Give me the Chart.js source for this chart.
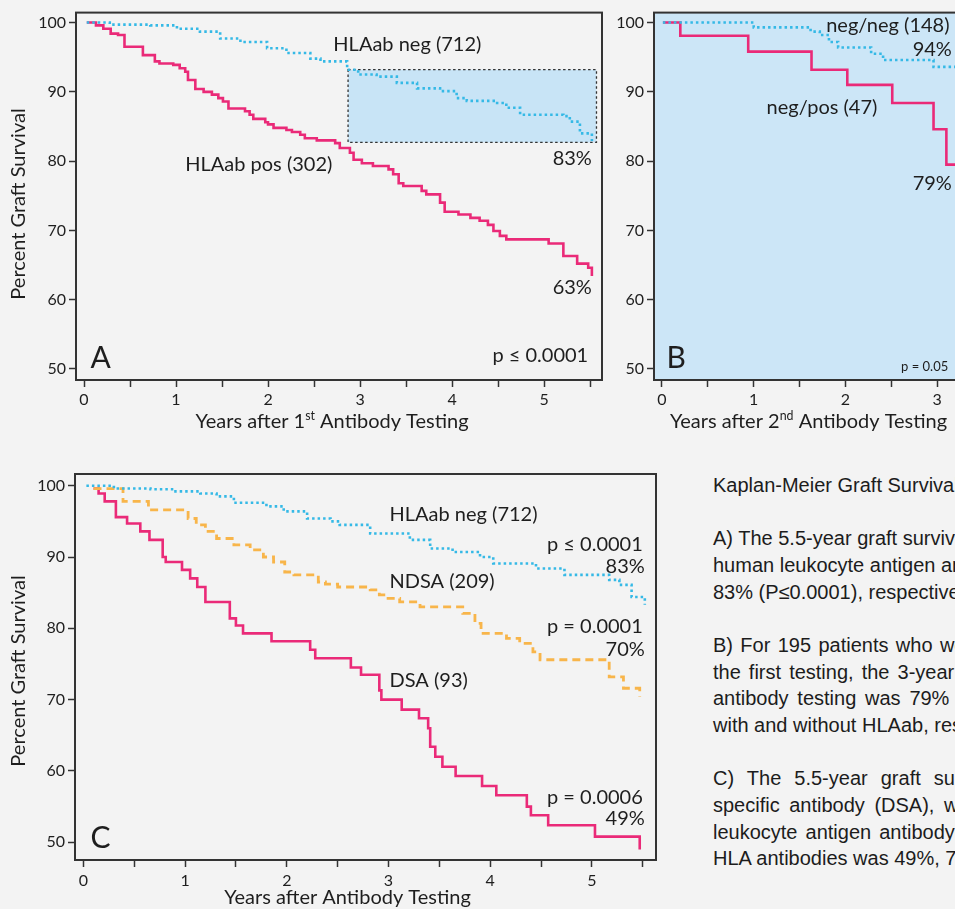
<!DOCTYPE html>
<html>
<head>
<meta charset="utf-8">
<script src="https://cdn.jsdelivr.net/npm/chart.js@4.4.1/dist/chart.umd.min.js"></script>
<style>
  html, body { margin: 0; padding: 0; background: #f3f3f3; width: 955px; height: 909px; overflow: hidden; position: relative; }
  .panel { position: absolute; overflow: visible; }
  .panel canvas { display: block; }
  #caption { position: absolute; left: 713px; top: 472px; font-family: "Liberation Sans", Arial, sans-serif;
             font-size: 20px; color: #1c1c1c; white-space: nowrap; }
  #caption div { height: 26.67px; line-height: 26.67px; }
</style>
</head>
<body>
<div class="panel" style="left:0;top:0;width:610px;height:440px"><canvas id="chartA" width="610" height="440" style="width:610px;height:440px"></canvas></div>
<div class="panel" style="left:600px;top:0;width:450px;height:440px"><canvas id="chartB" width="450" height="440" style="width:450px;height:440px"></canvas></div>
<div class="panel" style="left:0;top:460px;width:670px;height:449px"><canvas id="chartC" width="670" height="449" style="width:670px;height:449px"></canvas></div>

<div id="caption">
  <div>Kaplan-Meier Graft Survival</div>
  <div>&nbsp;</div>
  <div>A) The 5.5-year graft survival of patients with and without</div>
  <div>human leukocyte antigen antibodies (HLAab) was 63% and</div>
  <div>83% (P≤0.0001), respectively.</div>
  <div>&nbsp;</div>
  <div style="word-spacing:1.8px">B) For 195 patients who were HLAab negative at</div>
  <div style="word-spacing:2.5px">the first testing, the 3-year graft survival after the second</div>
  <div style="word-spacing:3.2px">antibody testing was 79% and 94% for patients</div>
  <div>with and without HLAab, respectively (P=0.05).</div>
  <div>&nbsp;</div>
  <div style="word-spacing:7.5px">C) The 5.5-year graft survival of patients with donor-</div>
  <div style="word-spacing:4px">specific antibody (DSA), with nondonor-specific human</div>
  <div style="word-spacing:2.5px">leukocyte antigen antibody (NDSA), and without</div>
  <div>HLA antibodies was 49%, 70%, and 83%, respectively.</div>
</div>

<script>
// tick values shared by all panels
var yTicks = [50, 60, 70, 80, 90, 100];
var xTicks = [0, 0.5, 1, 1.5, 2, 2.5, 3, 3.5, 4, 4.5, 5, 5.5];

// A: after 1st antibody testing
var aPosYears = [0.03, 0.13, 0.21, 0.29, 0.37, 0.44, 0.64, 0.77, 0.82, 0.97, 1.04, 1.10, 1.13, 1.21, 1.30, 1.39, 1.46, 1.51, 1.57, 1.75, 1.80, 1.84, 1.97, 2.00, 2.06, 2.20, 2.26, 2.35, 2.40, 2.53, 2.73, 2.78, 2.89, 2.93, 3.02, 3.14, 3.31, 3.36, 3.42, 3.47, 3.67, 3.72, 3.87, 3.92, 4.07, 4.20, 4.30, 4.39, 4.45, 4.52, 4.59, 5.05, 5.21, 5.36, 5.48, 5.52];
var aPosSurv  = [100, 99.6, 99.1, 98.4, 98.2, 96.5, 95.3, 94.4, 94.1, 93.9, 93.4, 92.9, 91.7, 90.4, 90.0, 89.6, 89.1, 88.6, 87.6, 87.2, 86.7, 86.1, 85.6, 85.3, 84.8, 84.5, 84.2, 83.8, 83.3, 83.0, 82.6, 81.9, 81.2, 80.2, 79.7, 79.3, 78.8, 78.1, 76.8, 76.4, 75.7, 75.2, 74.0, 72.7, 72.3, 71.8, 71.4, 70.8, 69.9, 69.2, 68.7, 68.1, 66.3, 65.2, 64.6, 63.4];
var aNegYears = [0.03, 0.28, 0.72, 1.01, 1.26, 1.48, 1.70, 1.99, 2.20, 2.46, 2.57, 2.86, 2.98, 3.18, 3.40, 3.62, 3.87, 4.05, 4.16, 4.49, 4.59, 4.74, 5.21, 5.28, 5.39, 5.52];
var aNegSurv  = [100, 99.7, 99.6, 99.1, 98.7, 97.7, 97.2, 96.3, 95.6, 94.8, 94.4, 93.2, 92.5, 92.2, 91.3, 90.5, 90.1, 89.1, 88.7, 88.4, 87.7, 86.7, 86.5, 85.7, 84.0, 82.9];

// B: after 2nd antibody testing
var bPosYears = [0.01, 0.20, 0.94, 1.63, 2.02, 2.51, 2.96, 3.10, 3.20];
var bPosSurv  = [100, 98.1, 95.8, 93.2, 91.0, 88.4, 84.6, 79.5, 79.5];
var bNegYears = [0.01, 1.00, 1.62, 1.72, 1.82, 1.92, 2.28, 2.41, 2.96, 3.20];
var bNegSurv  = [100, 99.3, 98.7, 98.2, 97.2, 96.4, 95.5, 94.6, 93.6, 93.6];

// C: DSA / NDSA / HLAab neg
var cDsaYears  = [0.10, 0.15, 0.21, 0.32, 0.43, 0.56, 0.65, 0.78, 0.81, 0.97, 1.05, 1.12, 1.20, 1.44, 1.50, 1.57, 1.85, 2.23, 2.28, 2.63, 2.73, 2.91, 2.93, 3.13, 3.30, 3.39, 3.41, 3.46, 3.53, 3.66, 3.92, 4.06, 4.36, 4.40, 4.57, 5.03, 5.47];
var cDsaSurv   = [99.6, 98.9, 97.8, 95.6, 94.7, 93.6, 92.4, 90.0, 89.3, 88.2, 87.0, 85.8, 83.7, 81.4, 80.4, 79.3, 78.2, 77.0, 75.8, 74.5, 73.5, 71.3, 70.0, 68.6, 67.4, 66.0, 63.4, 62.0, 60.6, 59.3, 57.9, 56.6, 55.0, 53.8, 52.4, 50.8, 49.0];
var cNdsaYears = [0.10, 0.39, 0.64, 1.03, 1.11, 1.20, 1.31, 1.48, 1.64, 1.77, 1.87, 1.98, 2.07, 2.31, 2.38, 2.50, 2.82, 2.91, 2.98, 3.11, 3.31, 3.73, 3.85, 3.91, 4.16, 4.29, 4.42, 4.49, 5.17, 5.31, 5.47];
var cNdsaSurv  = [99.6, 97.8, 96.6, 95.4, 94.5, 93.6, 92.6, 91.7, 91.0, 90.0, 89.3, 87.9, 87.5, 86.5, 86.2, 85.8, 85.4, 84.7, 84.2, 83.7, 83.0, 82.1, 80.7, 79.3, 78.6, 77.9, 76.7, 75.6, 73.2, 71.6, 70.4];
var cNegYears  = [0.03, 0.30, 0.66, 0.89, 1.15, 1.31, 1.48, 1.80, 1.97, 2.20, 2.43, 2.52, 2.82, 3.21, 3.41, 3.63, 3.90, 4.03, 4.45, 4.73, 5.17, 5.27, 5.39, 5.52];
var cNegSurv   = [100, 99.6, 99.5, 99.2, 98.9, 98.5, 97.6, 97.1, 96.4, 95.4, 95.0, 94.5, 93.3, 92.4, 91.2, 90.7, 90.0, 89.1, 88.4, 87.5, 86.8, 86.1, 84.4, 83.3];

var PINK = '#ea2a78', CYAN = '#35b9e6', ORANGE = '#f8b54a', INK = '#1e1e1e', FRAME = '#333333';
var FONT = 'Lato, "Open Sans", sans-serif';

Chart.defaults.font.family = FONT;

function pts(xs, ys) {
  return xs.map(function(x, i) { return { x: x, y: ys[i] }; });
}

function solid(xs, ys) {
  return { data: pts(xs, ys), borderColor: PINK, borderWidth: 2.6, stepped: true, pointRadius: 0 };
}
function dotted(xs, ys) {
  return { data: pts(xs, ys), borderColor: CYAN, borderWidth: 2.6, borderDash: [2.5, 3], stepped: true, pointRadius: 0 };
}
function dashed(xs, ys) {
  return { data: pts(xs, ys), borderColor: ORANGE, borderWidth: 2.8, borderDash: [8, 5], stepped: true, pointRadius: 0 };
}

// text with optional superscript parts: [[text, isSup], ...]
function drawRich(ctx, parts, x, y, align, size) {
  var widths = parts.map(function(p) {
    ctx.font = (p[1] ? size * 0.62 : size) + 'px ' + FONT;
    return ctx.measureText(p[0]).width;
  });
  var total = widths.reduce(function(a, b) { return a + b; }, 0);
  var cx = align === 'center' ? x - total / 2 : (align === 'right' ? x - total : x);
  ctx.textAlign = 'left';
  ctx.textBaseline = 'middle';
  parts.forEach(function(p, i) {
    ctx.font = (p[1] ? size * 0.62 : size) + 'px ' + FONT;
    ctx.fillText(p[0], cx, p[1] ? y - size * 0.32 : y);
    cx += widths[i];
  });
}

var kmDecor = {
  id: 'kmDecor',
  beforeDatasetsDraw: function(chart, args, o) {
    var ctx = chart.ctx, a = chart.chartArea, sx = chart.scales.x, sy = chart.scales.y;
    ctx.save();
    if (o.plotFill) {
      ctx.fillStyle = o.plotFill;
      ctx.fillRect(a.left, a.top, a.width, a.height);
    }
    if (o.box) {
      var x0 = sx.getPixelForValue(o.box.x0), x1 = sx.getPixelForValue(o.box.x1);
      var y0 = sy.getPixelForValue(o.box.y0), y1 = sy.getPixelForValue(o.box.y1);
      ctx.fillStyle = '#c8e4f6';
      ctx.fillRect(x0, y1, x1 - x0, y0 - y1);
      ctx.strokeStyle = '#333';
      ctx.lineWidth = 1.3;
      ctx.setLineDash([2.5, 2.5]);
      ctx.strokeRect(x0, y1, x1 - x0, y0 - y1);
    }
    ctx.restore();
  },
  afterDraw: function(chart, args, o) {
    var ctx = chart.ctx, a = chart.chartArea, sx = chart.scales.x, sy = chart.scales.y;
    ctx.save();
    ctx.strokeStyle = FRAME;
    ctx.lineWidth = 2;
    ctx.strokeRect(a.left, a.top, a.width, a.height);
    ctx.fillStyle = INK;
    (o.labels || []).forEach(function(l) {
      drawRich(ctx, [[l.text, false]], sx.getPixelForValue(l.x), sy.getPixelForValue(l.y), l.align, l.size || 20);
    });
    drawRich(ctx, o.xTitle, (a.left + a.right) / 2 + o.xTitleShift, o.xTitleY, 'center', 20);
    ctx.translate(19, o.yTitleY);
    ctx.rotate(-Math.PI / 2);
    drawRich(ctx, [['Percent Graft Survival', false]], 0, 0, 'center', 20);
    ctx.restore();
  }
};

function kmChart(id, p) {
  return new Chart(document.getElementById(id), {
    type: 'line',
    data: { datasets: p.datasets },
    options: {
      responsive: false,
      animation: false,
      layout: { padding: { top: p.padTop, right: p.padRight, left: 0, bottom: 0 } },
      plugins: { legend: { display: false }, tooltip: { enabled: false }, kmDecor: p.decor },
      scales: {
        x: {
          type: 'linear', min: p.xMin, max: p.xMax,
          afterBuildTicks: function(s) {
            s.ticks = xTicks.filter(function(v) { return v <= p.xMax; }).map(function(v) { return { value: v }; });
          },
          afterFit: function(s) { s.height = p.xAxisH; },
          ticks: {
            autoSkip: false, maxRotation: 0, padding: p.xPad, color: INK, font: { size: 16 },
            callback: function(v) { return Number.isInteger(v) ? String(v) : ''; }
          },
          grid: { drawOnChartArea: false, tickLength: 7, tickColor: FRAME, tickWidth: 1.5 },
          border: { display: false }
        },
        y: {
          min: p.yMin, max: p.yMax,
          afterBuildTicks: function(s) { s.ticks = yTicks.map(function(v) { return { value: v }; }); },
          afterFit: function(s) { s.width = p.yAxisW; },
          ticks: { padding: 3, color: INK, font: { size: 16 }, callback: function(v) { return String(v); } },
          grid: { drawOnChartArea: false, tickLength: 7, tickColor: FRAME, tickWidth: 1.5 },
          border: { display: false }
        }
      }
    },
    plugins: [kmDecor]
  });
}

kmChart('chartA', {
  datasets: [dotted(aNegYears, aNegSurv), solid(aPosYears, aPosSurv)],
  xMin: -0.087, xMax: 5.63, yMin: 48.4, yMax: 101.44,
  padTop: 11, padRight: 8, yAxisW: 76, xAxisH: 60, xPad: 3,
  decor: {
    box: { x0: 2.87, x1: 5.57, y0: 82.7, y1: 93.2 },
    xTitle: [['Years after 1', false], ['st', true], [' Antibody Testing', false]],
    xTitleY: 422, xTitleShift: -7, yTitleY: 204,
    labels: [
      { text: 'HLAab neg (712)', x: 2.71, y: 96.8, align: 'left' },
      { text: 'HLAab pos (302)', x: 1.10, y: 79.5, align: 'left' },
      { text: '83%', x: 5.52, y: 80.4, align: 'right' },
      { text: '63%', x: 5.52, y: 61.7, align: 'right' },
      { text: 'p ≤ 0.0001', x: 5.48, y: 52.0, align: 'right' },
      { text: 'A', x: 0.07, y: 51.6, align: 'left', size: 30 }
    ]
  }
});

kmChart('chartB', {
  datasets: [dotted(bNegYears, bNegSurv), solid(bPosYears, bPosSurv)],
  xMin: -0.087, xMax: 3.63, yMin: 48.4, yMax: 101.44,
  padTop: 11, padRight: 55, yAxisW: 54, xAxisH: 60, xPad: 3,
  decor: {
    plotFill: '#cce6f7',
    xTitle: [['Years after 2', false], ['nd', true], [' Antibody Testing', false]],
    xTitleY: 422, xTitleShift: -16, yTitleY: -1000,
    labels: [
      { text: 'neg/neg (148)', x: 1.79, y: 99.6, align: 'left' },
      { text: '94%', x: 3.16, y: 96.1, align: 'right' },
      { text: 'neg/pos (47)', x: 1.14, y: 87.8, align: 'left' },
      { text: '79%', x: 3.16, y: 76.8, align: 'right' },
      { text: 'p = 0.05', x: 3.12, y: 50.3, align: 'right', size: 13 },
      { text: 'B', x: 0.05, y: 51.6, align: 'left', size: 30 }
    ]
  }
});

kmChart('chartC', {
  datasets: [dotted(cNegYears, cNegSurv), dashed(cNdsaYears, cNdsaSurv), solid(cDsaYears, cDsaSurv)],
  xMin: -0.082, xMax: 5.63, yMin: 47.52, yMax: 101.64,
  padTop: 14, padRight: 14, yAxisW: 75, xAxisH: 49, xPad: 4,
  decor: {
    xTitle: [['Years after Antibody Testing', false]],
    xTitleY: 438, xTitleShift: -18, yTitleY: 211,
    labels: [
      { text: 'HLAab neg (712)', x: 3.01, y: 95.9, align: 'left' },
      { text: 'p ≤ 0.0001', x: 5.50, y: 91.7, align: 'right' },
      { text: '83%', x: 5.52, y: 88.7, align: 'right' },
      { text: 'NDSA (209)', x: 3.01, y: 86.5, align: 'left' },
      { text: 'p = 0.0001', x: 5.50, y: 80.2, align: 'right' },
      { text: '70%', x: 5.52, y: 77.0, align: 'right' },
      { text: 'DSA (93)', x: 3.01, y: 72.7, align: 'left' },
      { text: 'p = 0.0006', x: 5.50, y: 56.3, align: 'right' },
      { text: '49%', x: 5.52, y: 53.4, align: 'right' },
      { text: 'C', x: 0.07, y: 50.5, align: 'left', size: 30 }
    ]
  }
});
</script>
</body>
</html>
